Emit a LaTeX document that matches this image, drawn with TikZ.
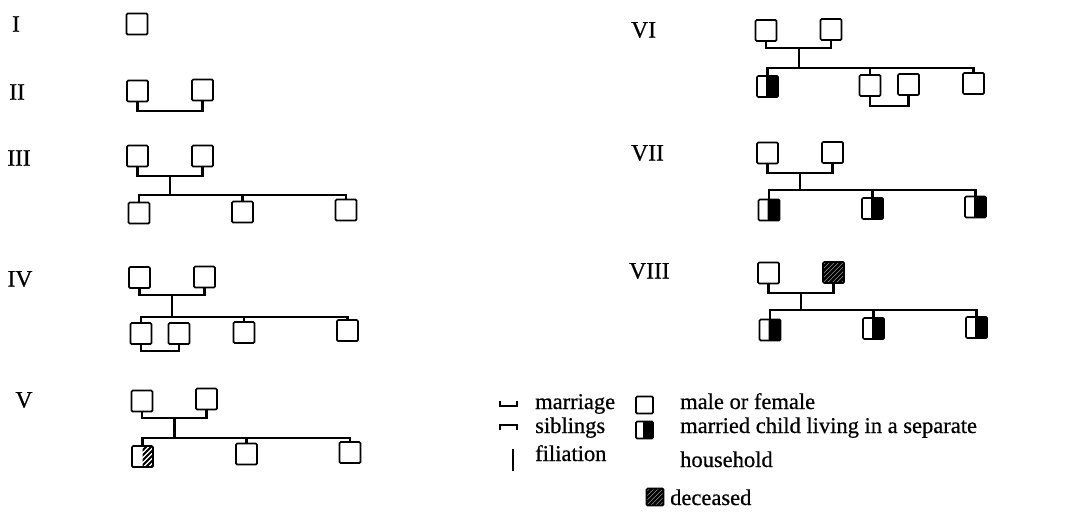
\documentclass[tikz,border=0pt]{standalone}
\usepackage{fontspec}
\setmainfont{Liberation Serif}
\newfontfamily\scanfont{Liberation Serif}[FakeBold=0.6]
\begin{document}
\begin{tikzpicture}[x=1pt,y=-1pt,
 person/.style={draw, line width=1.7pt, minimum size=21pt, inner sep=0pt, rounded corners=1.2pt, fill=white},
 small/.style={minimum size=17pt},
 halfblack/.style={path picture={\fill[black] ([xshift=-1.5pt]path picture bounding box.south) rectangle (path picture bounding box.north east);}},
 hatched/.style={path picture={\foreach \i in {-36,-31.5,...,36} \draw[black,line width=2.6pt] ([shift={(\i pt,-20pt)}]path picture bounding box.center) -- ++(40pt,40pt);}},
 halfhatch/.style={path picture={\begin{scope}\clip (path picture bounding box.south) rectangle (path picture bounding box.north east); \foreach \i in {-36,-31,...,36} \draw[black,line width=1.8pt] ([shift={(\i pt,-20pt)}]path picture bounding box.center) -- ++(40pt,40pt);\end{scope}}},
 rel/.style={line width=2.9pt},
 lab/.style={font=\scanfont\fontsize{23.5}{27}\selectfont, inner sep=0pt},
 leg/.style={font=\scanfont\fontsize{22.5}{27}\selectfont, inner sep=0pt, anchor=base west},
]
\useasboundingbox (0,0) rectangle (1070,512);
\fill[white] (0,0) rectangle (1070,512);

% labels
\node[lab] (lI) at (16,24) {I};
\node[lab] (lII) at (17,92) {II};
\node[lab] (lIII) at (19,158) {III};
\node[lab] (lIV) at (20,279) {IV};
\node[lab] (lV) at (24,400) {V};
\node[lab,anchor=west] (lVI) at (631,30) {VI};
\node[lab,anchor=west] (lVII) at (631,153) {VII};
\node[lab,anchor=west] (lVIII) at (629,271) {VIII};

% I
\node[person] (a1) at (137,24) {};

% II
\node[person] (b1) at (137.5,91) {};
\node[person] (b2) at (202.5,90) {};
\coordinate (bm) at (170,111);
\draw[rel] (b1.south) -- (b1.south |- bm) -- (b2.south |- bm) -- (b2.south);

% III
\node[person] (c1) at (137.5,156) {};
\node[person] (c2) at (202.5,156) {};
\node[person] (c3) at (139,213) {};
\node[person] (c4) at (242.5,212) {};
\node[person] (c5) at (346,210) {};
\coordinate (cm) at (170,176);
\coordinate (cs) at (170,195);
\draw[rel] (c1.south) -- (c1.south |- cm) -- (c2.south |- cm) -- (c2.south);
\draw[rel] (cm) -- (cs);
\draw[rel] (c3.north) -- (c3.north |- cs) -- (c5.north |- cs) -- (c5.north);
\draw[rel] (c4.north) -- (c4.north |- cs);

% IV
\node[person] (d1) at (139.5,277.5) {};
\node[person] (d2) at (204.5,277) {};
\node[person] (d3) at (141,333.5) {};
\node[person] (d4) at (179,333.5) {};
\node[person] (d5) at (244,332.5) {};
\node[person] (d6) at (347.5,330.5) {};
\coordinate (dm) at (172,295);
\coordinate (ds) at (172,317);
\coordinate (dmm) at (160,351);
\draw[rel] (d1.south) -- (d1.south |- dm) -- (d2.south |- dm) -- (d2.south);
\draw[rel] (dm) -- (ds);
\draw[rel] (d3.north) -- (d3.north |- ds) -- (d6.north |- ds) -- (d6.north);
\draw[rel] (d5.north) -- (d5.north |- ds);
\draw[rel] (d3.south) -- (d3.south |- dmm) -- (d4.south |- dmm) -- (d4.south);

% V
\node[person] (e1) at (142,401) {};
\node[person] (e2) at (206.5,399) {};
\node[person,halfhatch] (e3) at (142.5,456.5) {};
\node[person] (e4) at (246.5,454) {};
\node[person] (e5) at (350,452.5) {};
\coordinate (em) at (174.5,418);
\coordinate (es) at (174.5,438);
\draw[rel] (e1.south) -- (e1.south |- em) -- (e2.south |- em) -- (e2.south);
\draw[rel] (em) -- (es);
\draw[rel] (e3.north) -- (e3.north |- es) -- (e5.north |- es) -- (e5.north);
\draw[rel] (e4.north) -- (e4.north |- es);

% VI
\node[person] (f1) at (766,30.5) {};
\node[person] (f2) at (831,29.5) {};
\node[person,halfblack] (f3) at (767.5,86.5) {};
\node[person] (f4) at (870,85.5) {};
\node[person] (f5) at (908.5,84.5) {};
\node[person] (f6) at (973.5,83.5) {};
\coordinate (fm) at (799,48);
\coordinate (fs) at (799,68);
\coordinate (fmm) at (890,106);
\draw[rel] (f1.south) -- (f1.south |- fm) -- (f2.south |- fm) -- (f2.south);
\draw[rel] (fm) -- (fs);
\draw[rel] (f3.north) -- (f3.north |- fs) -- (f6.north |- fs) -- (f6.north);
\draw[rel] (f4.north) -- (f4.north |- fs);
\draw[rel] (f4.south) -- (f4.south |- fmm) -- (f5.south |- fmm) -- (f5.south);

% VII
\node[person] (g1) at (767.5,153) {};
\node[person] (g2) at (832.5,152.5) {};
\node[person,halfblack] (g3) at (769,210) {};
\node[person,halfblack] (g4) at (872.5,208.5) {};
\node[person,halfblack] (g5) at (975.5,207) {};
\coordinate (gm) at (800,173);
\coordinate (gs) at (800,190);
\draw[rel] (g1.south) -- (g1.south |- gm) -- (g2.south |- gm) -- (g2.south);
\draw[rel] (gm) -- (gs);
\draw[rel] (g3.north) -- (g3.north |- gs) -- (g5.north |- gs) -- (g5.north);
\draw[rel] (g4.north) -- (g4.north |- gs);

% VIII
\node[person] (h1) at (768.5,273) {};
\node[person,hatched] (h2) at (833.5,272.5) {};
\node[person,halfblack] (h3) at (770,330) {};
\node[person,halfblack] (h4) at (873.5,328.5) {};
\node[person,halfblack] (h5) at (976.5,327.5) {};
\coordinate (hm) at (801,293);
\coordinate (hs) at (801,310);
\draw[rel] (h1.south) -- (h1.south |- hm) -- (h2.south |- hm) -- (h2.south);
\draw[rel] (hm) -- (hs);
\draw[rel] (h3.north) -- (h3.north |- hs) -- (h5.north |- hs) -- (h5.north);
\draw[rel] (h4.north) -- (h4.north |- hs);

% legend
\coordinate (mkA) at (500,401);
\coordinate (mkB) at (517,401);
\draw[line width=1.8pt] (mkA) -- ++(0,5) -| (mkB);
\coordinate (skA) at (500,430);
\coordinate (skB) at (517,430);
\draw[line width=1.8pt] (skA) -- ++(0,-5) -| (skB);
\coordinate (fiA) at (513,449);
\coordinate (fiB) at (513,471);
\draw[line width=1.6pt] (fiA) -- (fiB);
\node[leg] (tmar) at (535,409) {marriage};
\node[leg] (tsib) at (535,433) {siblings};
\node[leg] (tfil) at (535,461) {filiation};

\node[person,small] (lsq) at (644.5,405) {};
\node[person,small,halfblack] (lmc) at (644.5,430) {};
\node[person,small,hatched] (ldc) at (655,497) {};
\node[leg] (tmf) at (680,409) {male or female};
\node[leg] (tmc) at (680,433) {married child living in a separate};
\node[leg] (thh) at (680,467) {household};
\node[leg] (tdc) at (670,505) {deceased};
\end{tikzpicture}
\end{document}
